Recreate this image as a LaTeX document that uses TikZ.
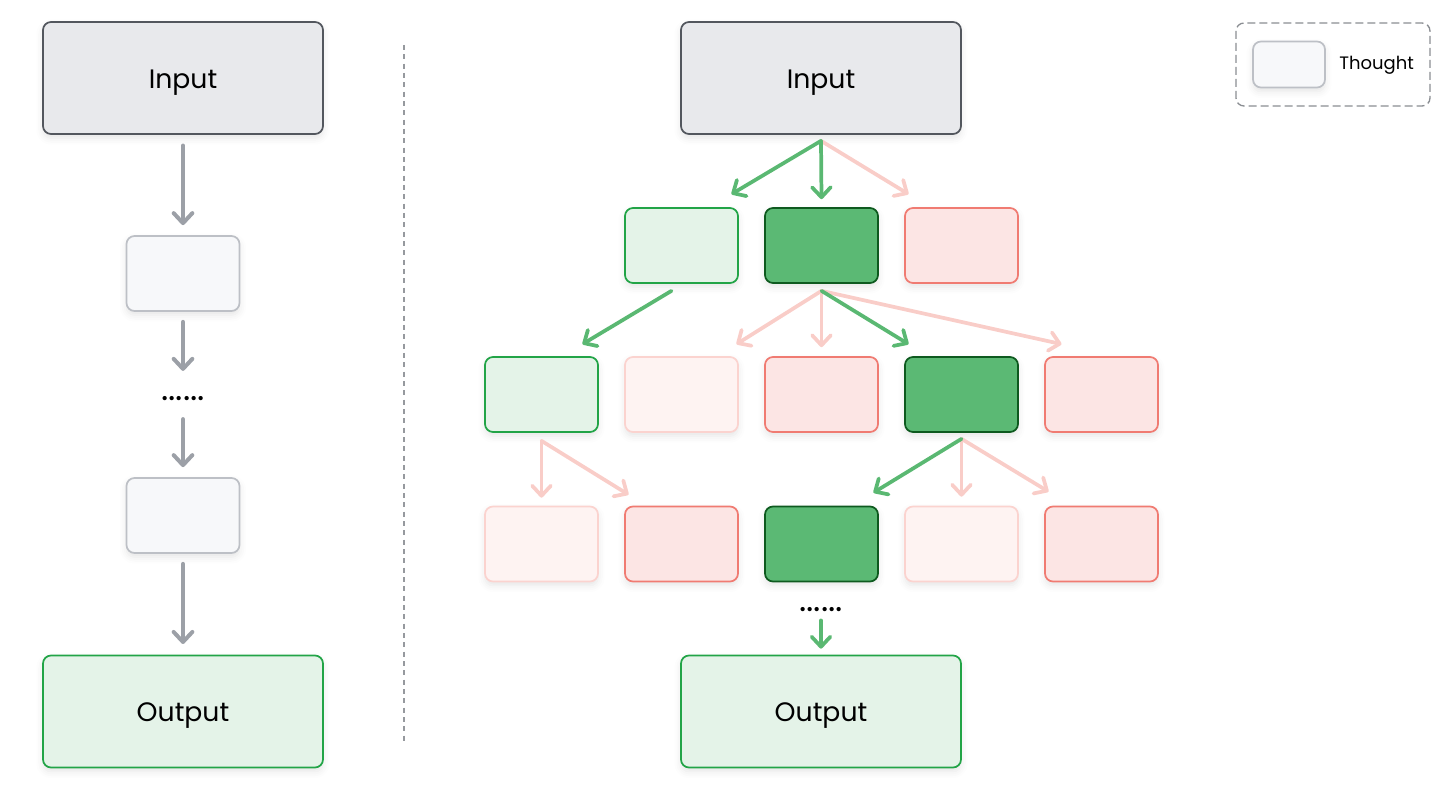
\documentclass[tikz,border=0pt]{standalone}
\usepackage{fontspec}
\setmainfont{Poppins}
\usetikzlibrary{arrows.meta,calc,shadows.blur}

\begin{document}
\begin{tikzpicture}[x=0.75pt,y=0.75pt,yscale=-1,xscale=1,
  box/.style={rounded corners=6pt, line width=1.3pt, minimum width=84.75pt, minimum height=56.25pt, inner sep=0pt,
    blur shadow={shadow xshift=0pt, shadow yshift=-3pt, shadow blur radius=5pt, shadow opacity=10}},
  bigbox/.style={box, minimum width=210pt, minimum height=84pt, font=\fontsize{20}{24}\selectfont, text height=15.5pt, text depth=0pt},
  inbox/.style={bigbox, draw={rgb, 255:red, 83; green, 87; blue, 94}, fill={rgb, 255:red, 232; green, 233; blue, 236}},
  outbox/.style={bigbox, draw={rgb, 255:red, 34; green, 164; blue, 71}, fill={rgb, 255:red, 228; green, 243; blue, 232}},
  thought/.style={box, draw={rgb, 255:red, 189; green, 192; blue, 198}, fill={rgb, 255:red, 247; green, 248; blue, 250}},
  okbox/.style={box, draw={rgb, 255:red, 34; green, 164; blue, 71}, fill={rgb, 255:red, 228; green, 243; blue, 232}},
  bestbox/.style={box, draw={rgb, 255:red, 14; green, 90; blue, 31}, fill={rgb, 255:red, 91; green, 185; blue, 116}},
  badbox/.style={box, draw={rgb, 255:red, 240; green, 123; blue, 114}, fill={rgb, 255:red, 252; green, 229; blue, 228}},
  paledbox/.style={box, draw={rgb, 255:red, 251; green, 211; blue, 207}, fill={rgb, 255:red, 254; green, 243; blue, 242}},
  arr/.style={line width=2.8pt, line cap=round, -{Straight Barb[length=7.5pt,width=14pt,round]}},
  karrow/.style={arr, line width=3pt, draw={rgb, 255:red, 156; green, 160; blue, 167}},
  garrow/.style={arr, draw={rgb, 255:red, 90; green, 184; blue, 114}},
  parrow/.style={arr, draw={rgb, 255:red, 249; green, 205; blue, 200}},
  dots/.style={font=\fontsize{26}{28}\selectfont, inner sep=0pt}
]
\useasboundingbox (0,0) rectangle (1456,798);

%Left chain
\node [inbox] (lin) at (183,78) {Input};
\node [thought] (lt1) at (183,273.5) {};
\node [dots] (ldots) at (183,399) {......};
\node [thought] (lt2) at (183,515.5) {};
\node [outbox] (lout) at (183,711.5) {Output};

\draw [karrow, shorten <=8pt, shorten >=7.5pt] (lin.south) -- (lt1.north) ;
\draw [karrow, shorten <=7.5pt] (lt1.south) -- ($(lt1.south)+(0,59)$) ;
\draw [karrow] ($(lt2.north)+(0,-58)$) -- ($(lt2.north)+(0,-10)$) ;
\draw [karrow, shorten <=7.5pt, shorten >=8pt] (lt2.south) -- (lout.north) ;

%Divider
\draw [draw={rgb, 255:red, 150; green, 153; blue, 158}, line width=1.1pt, dash pattern=on 3.75pt off 3.25pt] (404,45) -- (404,743) ;

%Tree
\node [inbox] (rin) at (821,78) {Input};

\node [okbox] (l1a) at (681.5,245.5) {};
\node [bestbox] (l1b) at (821.5,245.5) {};
\node [badbox] (l1c) at (961.5,245.5) {};

\node [okbox] (l2a) at (541.5,394.5) {};
\node [paledbox] (l2b) at (681.5,394.5) {};
\node [badbox] (l2c) at (821.5,394.5) {};
\node [bestbox] (l2d) at (961.5,394.5) {};
\node [badbox] (l2e) at (1101.5,394.5) {};

\node [paledbox] (l3a) at (541.5,544) {};
\node [badbox] (l3b) at (681.5,544) {};
\node [bestbox] (l3c) at (821.5,544) {};
\node [paledbox] (l3d) at (961.5,544) {};
\node [badbox] (l3e) at (1101.5,544) {};

\node [dots] (rdots) at (821,610) {......};
\node [outbox] (rout) at (821,711.5) {Output};

%Input to level 1
\draw [parrow] ($(rin.south)+(0,6)$) -- ($(l1c.north)+(-53,-13)$) ;
\draw [garrow] ($(rin.south)+(0,6)$) -- ($(l1a.north)+(50,-13)$) ;
\draw [garrow] ($(rin.south)+(0,6)$) -- ($(l1b.north)+(0,-8)$) ;

%Level 1 to level 2
\draw [garrow] ($(l1a.south)+(-10,7)$) -- ($(l2a.north)+(41,-12)$) ;
\draw [parrow] ($(l1b.south)+(0,7)$) -- ($(l2b.north)+(55,-12)$) ;
\draw [parrow] ($(l1b.south)+(0,7)$) -- ($(l2c.north)+(0,-9)$) ;
\draw [parrow] ($(l1b.south)+(0,7)$) -- ($(l2e.north)+(-40,-12)$) ;
\draw [garrow] ($(l1b.south)+(0,7)$) -- ($(l2d.north)+(-53,-12)$) ;

%Level 2 to level 3
\draw [parrow] ($(l2a.south)+(0,8)$) -- ($(l3a.north)+(0,-8)$) ;
\draw [parrow] ($(l2a.south)+(0,8)$) -- ($(l3b.north)+(-53,-11)$) ;
\draw [parrow] ($(l2d.south)+(0,6)$) -- ($(l3d.north)+(0,-9)$) ;
\draw [parrow] ($(l2d.south)+(0,6)$) -- ($(l3e.north)+(-53,-14)$) ;
\draw [garrow] ($(l2d.south)+(0,6)$) -- ($(l3c.north)+(52,-13)$) ;

\draw [garrow] ($(rdots.south)+(0,8)$) -- ($(rout.north)+(0,-6)$) ;

%Legend
\draw [draw={rgb, 255:red, 138; green, 141; blue, 146}, line width=1pt, dash pattern=on 6pt off 3pt, rounded corners=6pt] (1236,23) rectangle (1430,106) ;
\node [thought, minimum width=54pt, minimum height=34.5pt] (key) at (1289,64.5) {};
\node [font=\fontsize{13.5}{16}\selectfont, text height=9.5pt, text depth=0pt, anchor=west, inner sep=0pt] (keytext) at (1339,63) {Thought};

\end{tikzpicture}
\end{document}
